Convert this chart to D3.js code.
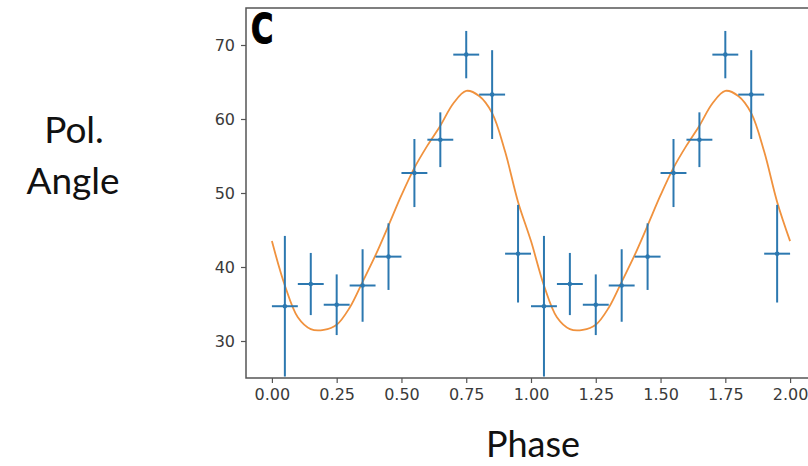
<!DOCTYPE html>
<html>
<head>
<meta charset="utf-8">
<script src="https://cdn.jsdelivr.net/npm/d3@7"></script>
<style>
  body { margin: 0; background: #fff; }
  svg { display: block; }
</style>
</head>
<body>
<div id="chart"></div>
<script>
// Measured points (phase bins, two cycles)
const phase = [0.05, 0.15, 0.25, 0.35, 0.45, 0.55, 0.65, 0.75, 0.85, 0.95,
               1.05, 1.15, 1.25, 1.35, 1.45, 1.55, 1.65, 1.75, 1.85, 1.95];
const polAngle = [34.7, 37.7, 34.9, 37.5, 41.4, 52.7, 57.2, 68.7, 63.3, 41.8,
                  34.7, 37.7, 34.9, 37.5, 41.4, 52.7, 57.2, 68.7, 63.3, 41.8];
const angleErr = [9.5, 4.2, 4.1, 4.9, 4.5, 4.6, 3.7, 3.2, 6.0, 6.6,
                  9.5, 4.2, 4.1, 4.9, 4.5, 4.6, 3.7, 3.2, 6.0, 6.6];
const phaseErr = 0.05;

// Model curve
const curvePhase = [0.00, 0.05, 0.10, 0.15, 0.20, 0.25, 0.30, 0.35, 0.40, 0.45,
                    0.50, 0.55, 0.60, 0.65, 0.70, 0.75, 0.80, 0.85, 0.90, 0.95,
                    1.00, 1.05, 1.10, 1.15, 1.20, 1.25, 1.30, 1.35, 1.40, 1.45,
                    1.50, 1.55, 1.60, 1.65, 1.70, 1.75, 1.80, 1.85, 1.90, 1.95, 2.00];
const curveAngle = [43.5, 37.5, 33.2, 31.6, 31.5, 32.2, 34.5, 38.0, 41.6, 45.6,
                    49.7, 53.4, 56.4, 59.1, 62.1, 63.8, 63.1, 60.8, 55.6, 48.8,
                    43.5, 37.5, 33.2, 31.6, 31.5, 32.2, 34.5, 38.0, 41.6, 45.6,
                    49.7, 53.4, 56.4, 59.1, 62.1, 63.8, 63.1, 60.8, 55.6, 48.8, 43.5];

const xTicks = [0, 0.25, 0.5, 0.75, 1, 1.25, 1.5, 1.75, 2];
const yTicks = [30, 40, 50, 60, 70];

const W = 808, H = 466;
const plot = { left: 246, top: 8, right: 816, bottom: 378 };

const svg = d3.select("#chart").append("svg")
  .attr("width", W)
  .attr("height", H);

const x = d3.scaleLinear().domain([-0.1, 2.1]).range([plot.left, plot.right]);
const y = d3.scaleLinear().domain([25, 75]).range([plot.bottom, plot.top]);

svg.append("defs").append("clipPath").attr("id", "clip")
  .append("rect")
  .attr("x", plot.left).attr("y", plot.top)
  .attr("width", plot.right - plot.left)
  .attr("height", plot.bottom - plot.top);

const inner = svg.append("g").attr("clip-path", "url(#clip)");

// fitted curve
const line = d3.line()
  .x((d, i) => x(curvePhase[i]))
  .y(d => y(d))
  .curve(d3.curveCatmullRom.alpha(0.5));

inner.append("path")
  .datum(curveAngle)
  .attr("fill", "none")
  .attr("stroke", "#f0923e")
  .attr("stroke-width", 1.8)
  .attr("d", line);

// error bars
const blue = "#2c78b0";
const bars = inner.selectAll("g.pt")
  .data(phase)
  .enter().append("g");

bars.append("line")
  .attr("x1", d => x(d)).attr("x2", d => x(d))
  .attr("y1", (d, i) => y(polAngle[i] - angleErr[i]))
  .attr("y2", (d, i) => y(polAngle[i] + angleErr[i]))
  .attr("stroke", blue).attr("stroke-width", 2);

bars.append("line")
  .attr("x1", d => x(d - phaseErr)).attr("x2", d => x(d + phaseErr))
  .attr("y1", (d, i) => y(polAngle[i]))
  .attr("y2", (d, i) => y(polAngle[i]))
  .attr("stroke", blue).attr("stroke-width", 2);

bars.append("circle")
  .attr("cx", d => x(d))
  .attr("cy", (d, i) => y(polAngle[i]))
  .attr("r", 2.3)
  .attr("fill", blue);

// axes
const xAxis = svg.append("g")
  .attr("transform", `translate(0,${plot.bottom})`)
  .call(d3.axisBottom(x).tickValues(xTicks).tickFormat(d3.format(".2f")).tickSize(5).tickPadding(6));

const yAxis = svg.append("g")
  .attr("transform", `translate(${plot.left},0)`)
  .call(d3.axisLeft(y).tickValues(yTicks).tickSize(5).tickPadding(6));

[xAxis, yAxis].forEach(a => {
  a.select(".domain").remove();
  a.selectAll(".tick line").attr("stroke", "#555").attr("stroke-width", 1.2);
  a.selectAll(".tick text")
    .attr("fill", "#3a3a3a")
    .style("font-family", "DejaVu Sans, sans-serif")
    .style("font-size", "16px");
});

// frame (right side falls outside the picture)
svg.append("path")
  .attr("d", `M${plot.right},${plot.top}H${plot.left}V${plot.bottom}H${plot.right}`)
  .attr("fill", "none")
  .attr("stroke", "#555")
  .attr("stroke-width", 1.5);

// panel letter, narrow heavy
svg.append("text")
  .attr("transform", "translate(251,43) scale(0.76,1)")
  .style("font-family", "'DejaVu Sans', sans-serif")
  .style("font-weight", "bold")
  .style("font-size", "40px")
  .attr("fill", "#000")
  .attr("stroke", "#000")
  .attr("stroke-width", 1.2)
  .text("C");

// axis titles
const title = svg.append("text")
  .attr("text-anchor", "middle")
  .style("font-family", "Lato, 'Open Sans', sans-serif")
  .style("font-size", "37px")
  .attr("fill", "#111");
title.append("tspan").attr("x", 74).attr("y", 143).text("Pol.");
title.append("tspan").attr("x", 73).attr("y", 194).text("Angle");

svg.append("text")
  .attr("x", 533)
  .attr("y", 457)
  .attr("text-anchor", "middle")
  .style("font-family", "Lato, 'Open Sans', sans-serif")
  .style("font-size", "36px")
  .attr("fill", "#111")
  .text("Phase");
</script>
</body>
</html>
